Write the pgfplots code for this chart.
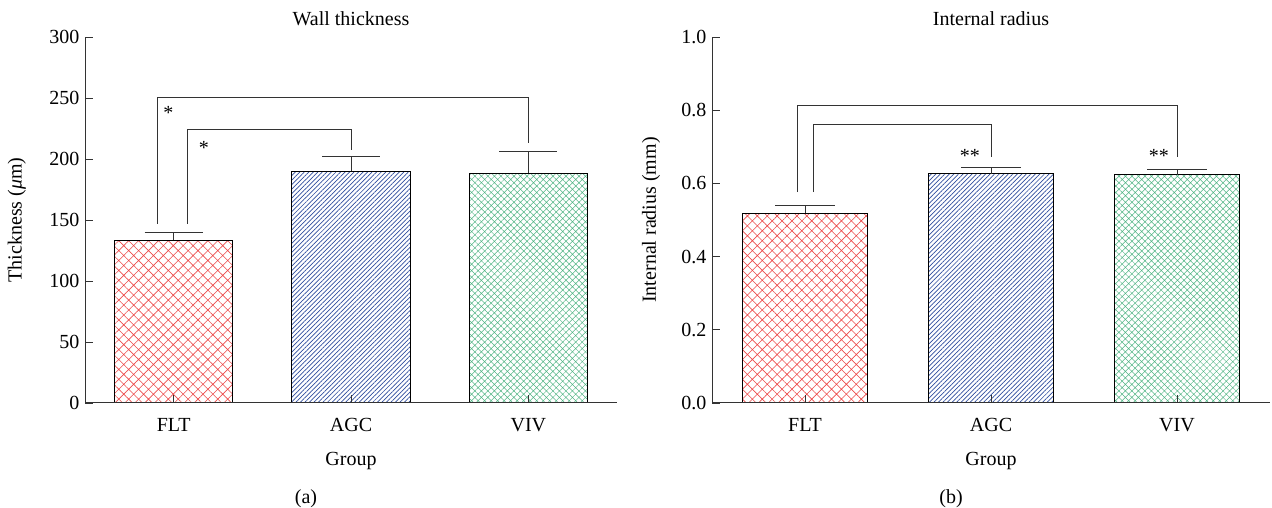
\documentclass[border=0pt]{standalone}
\usepackage{fontspec}
\setmainfont{Liberation Serif}
\usepackage{pgfplots}
\pgfplotsset{compat=1.18}
\usetikzlibrary{patterns.meta}
\definecolor{cred}{HTML}{EC4A4A}
\definecolor{cblue}{HTML}{2E4C9E}
\definecolor{cgreen}{HTML}{52B585}
\definecolor{axc}{HTML}{333333}
\newcommand{\fs}{\fontsize{20bp}{24bp}\selectfont}
\pgfplotsset{
  panel/.style={
    scale only axis, height=366bp,
    axis x line=bottom, axis y line=left,
    axis line style={-, line width=1bp, axc},
    xmin=-0.5, xmax=2.5, xtick={0,1,2}, xticklabels={FLT,AGC,VIV},
    tick align=inside, major tick length=8bp,
    tick style={axc, line width=0.9bp},
    font=\fs,
    /pgf/number format/assume math mode=true,
    xticklabel style={anchor=base, yshift=-29bp},
    yticklabel style={anchor=east, xshift=-2bp},
    xlabel style={at={(axis description cs:0.5,0)}, anchor=center, yshift=-58bp},
    title style={at={(axis description cs:0.5,1)}, anchor=center, yshift=12bp},
    axis on top, clip=false,
  },
  barA/.style={ybar, bar width=0.667, bar shift=0pt, draw=black, line width=1bp,
     pattern={Hatch[angle=45, distance=7bp, line width=0.6bp]}, pattern color=cred},
  barB/.style={ybar, bar width=0.667, bar shift=0pt, draw=black, line width=1bp,
     pattern={Lines[angle=45, distance=3.2bp, line width=0.7bp]}, pattern color=cblue},
  barC/.style={ybar, bar width=0.667, bar shift=0pt, draw=black, line width=1bp,
     pattern={Hatch[angle=45, distance=4.6bp, line width=0.5bp]}, pattern color=cgreen},
  errs/.style={draw=none, mark=none,
     error bars/.cd, y dir=plus, y explicit,
     error bar style={draw=axc, solid, line width=1bp},
     error mark options={rotate=90, mark size=#1, draw=axc, line width=1bp}},
  brk/.style={axc, line width=1bp, mark=none, sharp plot},
}
\begin{document}
\begin{tikzpicture}
\path[use as bounding box] (0,0) rectangle (1272bp,508bp);
% ---------- (a) ----------
\begin{axis}[panel, at={(85bp,105bp)}, anchor=south west, width=532bp,
  ymin=0, ymax=300, ytick={0,50,...,300},
  title={Wall thickness}, xlabel={Group},
  ylabel={Thickness ({\itshape μ}m)},
  ylabel style={at={(axis description cs:-0.128,0.5)}, anchor=center}]
\addplot[barA] coordinates {(0,133.5)};
\addplot[barB] coordinates {(1,190)};
\addplot[barC] coordinates {(2,188.5)};
\addplot[errs=29bp] coordinates {(0,133.5) +- (0,6.5) (1,190) +- (0,12) (2,188.5) +- (0,17.5)};
\addplot[brk] coordinates {(-0.09,147) (-0.09,250) (2,250) (2,213)};
\addplot[brk] coordinates {(0.079,147) (0.079,224) (1,224) (1,207)};
\node[anchor=base, font=\fs] at (axis cs:-0.03,232) {*};
\node[anchor=base, font=\fs] at (axis cs:0.17,203.5) {*};
\end{axis}
% ---------- (b) ----------
\begin{axis}[panel, at={(712bp,105bp)}, anchor=south west, width=558bp,
  ymin=0, ymax=1, ytick={0,0.2,...,1.0},
  yticklabel style={/pgf/number format/.cd, fixed, fixed zerofill, precision=1},
  title={Internal radius}, xlabel={Group},
  ylabel={Internal radius (mm)},
  ylabel style={at={(axis description cs:-0.109,0.5)}, anchor=center}]
\addplot[barA] coordinates {(0,0.518)};
\addplot[barB] coordinates {(1,0.627)};
\addplot[barC] coordinates {(2,0.624)};
\addplot[errs=30bp] coordinates {(0,0.518) +- (0,0.021) (1,0.627) +- (0,0.016) (2,0.624) +- (0,0.014)};
\addplot[brk] coordinates {(-0.043,0.576) (-0.043,0.812) (2,0.812) (2,0.673)};
\addplot[brk] coordinates {(0.045,0.576) (0.045,0.760) (1,0.760) (1,0.673)};
\node[anchor=base, font=\fs] at (axis cs:0.887,0.657) {**};
\node[anchor=base, font=\fs] at (axis cs:1.903,0.657) {**};
\end{axis}
\node[font=\fs] at (306bp,9bp) {(a)};
\node[font=\fs] at (951bp,9bp) {(b)};
\end{tikzpicture}
\end{document}
